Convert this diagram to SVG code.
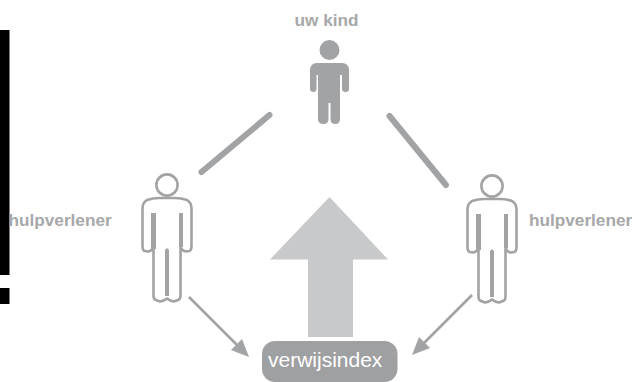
<svg xmlns="http://www.w3.org/2000/svg" width="632" height="382" viewBox="0 0 632 382">
<style>
.lbl{font-family:"Liberation Sans",Arial,sans-serif;font-size:17.200px;font-weight:bold;fill:#a7a8aa}
.o{fill:none;stroke:#a2a3a5;stroke-width:2.6;stroke-linejoin:round}
.b{fill:#a2a3a5}
.c{stroke:#a2a3a5;stroke-linecap:round;fill:none}
.a{stroke:#a2a3a5;stroke-width:2.6;fill:none}
</style>
<defs>
<g id="outline">
<circle class="o" cx="0" cy="0" r="10.6"/>
<path class="o" d="M-8 13H8Q14 13 20 15 Q24.500 18 24.500 23V61Q24.500 65 22.500 66 L19 66.500 Q15 66 13.500 62V111Q13.500 114 11 115L7 116.500Q3 116 0 113.500Q-3 116 -7 116.500L-11 115Q-13.500 114 -13.500 111V62Q-15 66 -19 66.500L-22.500 66Q-24.500 65 -24.500 61V23Q-24.500 18 -20 15Q-14 13 -8 13Z"/>
<path class="b" d="M-16 28H-11V64H-16ZM12 28H16V62H12ZM-2 65L0 63L2 65V111H-2Z"/>
</g>
</defs>
<g id="black-bars"><rect x="0" y="30" width="9.500" height="245"/><rect x="0" y="288" width="9.500" height="16"/></g>
<g id="connectors">
<line class="c" stroke-width="6" x1="201.500" y1="172" x2="269.500" y2="115"/>
<line class="c" stroke-width="6" x1="389.500" y1="116" x2="446" y2="185"/>
<line class="a" x1="189" y1="297" x2="238" y2="346"/>
<polygon class="b" points="249,357 231,350 242,339"/>
<line class="a" x1="472" y1="295" x2="423" y2="344"/>
<polygon class="b" points="412,355 419,337 430,348"/>
</g>
<g id="big-arrow"><polygon fill="#c8c9cb" points="329.500,197 388,259.500 353,259.500 353,337 308,337 308,259.500 270,259.500"/></g>
<g id="kind">
<text class="lbl" x="326.500" y="26" text-anchor="middle">uw kind</text>
<circle class="b" cx="329.500" cy="50" r="10"/>
<path class="b" d="M317 63H342Q349 63 349 71V89Q349 92 345.500 92Q342 92 342 89V75H340V119Q340 124 335 124Q330.500 124 330.500 119V103H328.500V119Q328.500 124 323.500 124Q318 124 318 119V75H316.500V89Q316.500 92 313.500 92Q310 92 310 89V71Q310 63 317 63Z"/>
</g>
<g id="hulpverlener-links">
<use href="#outline" x="167" y="185"/>
<text class="lbl" x="8.500" y="226">hulpverlener</text>
</g>
<g id="hulpverlener-rechts">
<use href="#outline" x="492" y="186"/>
<text class="lbl" x="529" y="226">hulpverlener</text>
</g>
<g id="verwijsindex">
<rect x="262" y="341" width="135.500" height="41" rx="13" fill="#9fa0a2"/>
<text x="268" y="367" font-family="'Liberation Sans',Arial,sans-serif" font-size="21" fill="#fff">verwijsindex</text>
</g>
</svg>
